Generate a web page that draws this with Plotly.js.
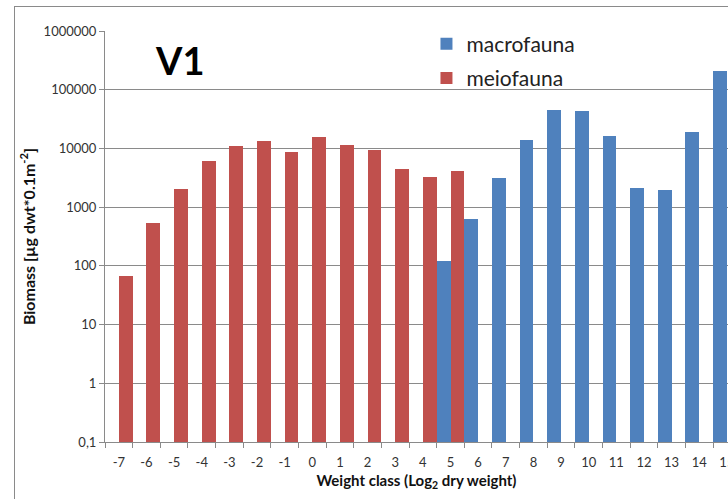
<!DOCTYPE html>
<html>
<head>
<meta charset="utf-8">
<script src="https://cdn.plot.ly/plotly-3.0.1.min.js"></script>
<style>
  html, body { margin: 0; padding: 0; background: #fff; overflow: hidden; }
  #wrap { position: relative; width: 728px; height: 499px; }
  #chart { position: absolute; left: 0; top: 0; width: 728px; height: 499px; }
  #frame { position: absolute; left: 14px; top: 6px; width: 800px; height: 600px;
           border-left: 1px solid #8a8a8a; border-top: 1px solid #8a8a8a; pointer-events: none; }
</style>
</head>
<body>
<div id="wrap">
  <div id="chart"></div>
  <div id="frame"></div>
</div>
<script>
// Weight classes (Log2 dry weight)
const weightClasses = ["-7","-6","-5","-4","-3","-2","-1","0","1","2","3","4","5","6","7","8","9","10","11","12","13","14","15"];
// Biomass [µg dwt*0.1m-2]
const macrofauna = [null,null,null,null,null,null,null,null,null,null,null,null,122,640,3120,13700,44400,42700,16000,2150,1980,19000,205000];
const meiofauna  = [66,530,2000,6000,11000,13400,8800,15500,11400,9500,4500,3200,4200,null,null,null,null,null,null,null,null,null,null];
const yTickVals = [0.1,1,10,100,1000,10000,100000,1000000];
const yTickText = ["0,1","1","10","100","1000","10000","100000","1000000"];

const FONT = "Lato, 'Open Sans', sans-serif";
const traces = [
  { type: "bar", name: "macrofauna", x: weightClasses, y: macrofauna,
    marker: { color: "#4F81BD" }, legendgroup: "a" },
  { type: "bar", name: "meiofauna", x: weightClasses, y: meiofauna,
    marker: { color: "#C0504D" }, legendgroup: "b" }
];
const layout = {
  width: 728, height: 499,
  margin: { l: 105, r: 0, t: 31, b: 57, pad: 0 },
  paper_bgcolor: "rgba(0,0,0,0)", plot_bgcolor: "#fff",
  font: { family: FONT, color: "#333" },
  barmode: "group", bargap: 0, bargroupgap: 0,
  showlegend: true,
  legend: { x: 0.516, y: 1.018, xanchor: "left", yanchor: "top",
            bgcolor: "rgba(0,0,0,0)", font: { size: 21, family: FONT, color: "#222" },
            traceorder: "grouped", tracegroupgap: 4, itemwidth: 30 },
  xaxis: {
    type: "category", range: [-0.5, 22.04], tickson: "boundaries",
    ticks: "outside", ticklen: 5, tickcolor: "#8a8a8a",
    showline: true, linecolor: "#8a8a8a", linewidth: 1,
    showgrid: false, zeroline: false,
    ticklabelstandoff: 8,
    tickfont: { size: 13, family: FONT, color: "#333" },
    title: { text: "<b>Weight class (Log<sub>2</sub> dry weight)</b>",
             font: { size: 15, family: FONT, color: "#111" }, standoff: 6 },
    fixedrange: true
  },
  yaxis: {
    type: "log", range: [-1, 6],
    tickvals: yTickVals, ticktext: yTickText,
    ticks: "outside", ticklen: 5, tickcolor: "#8a8a8a",
    showline: true, linecolor: "#8a8a8a", linewidth: 1,
    showgrid: true, gridcolor: "#8a8a8a", gridwidth: 1, zeroline: false,
    tickfont: { size: 13, family: FONT, color: "#333" },
    title: { text: "<b>Biomass [µg dwt*0.1m<sup>-2</sup>]</b>",
             font: { size: 16, family: FONT, color: "#111" }, standoff: 4 },
    fixedrange: true
  },
  annotations: [
    { text: "<b>V1</b>", xref: "paper", yref: "paper", x: 0.12, y: 0.93,
      xanchor: "center", yanchor: "middle", showarrow: false,
      font: { size: 38, family: FONT, color: "#000" } }
  ]
};
Plotly.newPlot("chart", traces, layout, { displayModeBar: false, staticPlot: true });
</script>
</body>
</html>
